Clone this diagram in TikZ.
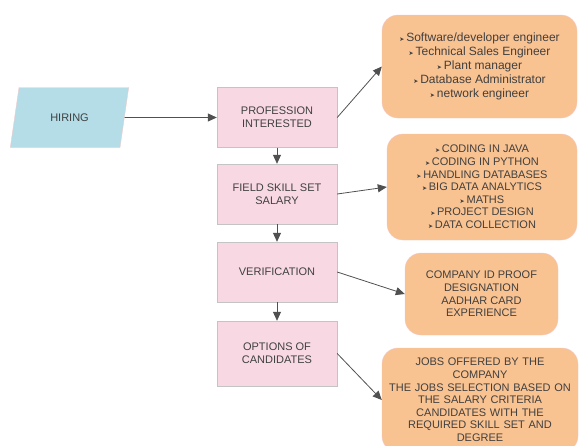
\documentclass[tikz,border=0pt]{standalone}
\usepackage{fontspec}
\setmainfont{Liberation Sans}
\newfontfamily\dejavu{DejaVu Sans}
\usetikzlibrary{arrows.meta}
\usepgflibrary{shapes.geometric}

\definecolor{hirefill}{HTML}{B4DDE7}
\definecolor{stagefill}{HTML}{F8D9E3}
\definecolor{stageline}{HTML}{C4C4C4}
\definecolor{notefill}{HTML}{F9C291}
\definecolor{noteline}{HTML}{F4C8C8}
\definecolor{inkgray}{HTML}{404040}
\definecolor{arrowgray}{HTML}{505050}

\newcommand{\tip}{{\dejavu\fontsize{6}{6}\selectfont ➤}\,}

\tikzset{
  stage/.style={draw=stageline, fill=stagefill, minimum width=120pt, minimum height=60pt,
    align=center, text=inkgray, font=\fontsize{11}{12.6}\selectfont},
  note/.style={draw=noteline, fill=notefill, rounded corners=16pt, align=center,
    text=inkgray, font=\fontsize{11}{12.6}\selectfont},
  link/.style={draw=arrowgray, line width=0.8pt, -{Triangle[length=9pt,width=8pt]}}
}

\begin{document}
\begin{tikzpicture}[x=1pt, y=-1pt]
          \useasboundingbox (0,0) rectangle (579,445);

          \node[trapezium, trapezium left angle=75, trapezium right angle=105,
            trapezium stretches=true, minimum width=119pt, minimum height=60pt,
            draw=noteline, fill=hirefill, text=inkgray, font=\fontsize{11}{12.6}\selectfont]
            (hire) at (69.5,117.5) {HIRING};

          \node[stage] (prof) at (277,117.5) {PROFESSION\\INTERESTED};
          \node[stage] (skill) at (277,194) {FIELD SKILL SET\\SALARY};
          \node[stage] (verif) at (277,272) {VERIFICATION};
          \node[stage, minimum height=65pt] (cand) at (277,353.5) {OPTIONS OF\\CANDIDATES};

          \node[note, minimum width=195pt, minimum height=103pt,
            font=\fontsize{12}{14}\selectfont] (jobs) at (479.5,66.5)
            {\tip Software/developer engineer\\ \tip Technical Sales Engineer\\
             \tip Plant manager\\ \tip Database Administrator\\ \tip network engineer};
          \node[note, minimum width=190pt, minimum height=106pt] (skills) at (482,187)
            {\tip CODING IN JAVA\\ \tip CODING IN PYTHON\\ \tip HANDLING DATABASES\\
             \tip BIG DATA ANALYTICS\\ \tip MATHS\\ \tip PROJECT DESIGN\\ \tip DATA COLLECTION};
          \node[note, minimum width=153pt, minimum height=82pt] (proof) at (481.5,294)
            {COMPANY ID PROOF\\DESIGNATION\\AADHAR CARD\\EXPERIENCE};
          \node[note, minimum width=196pt, minimum height=104pt, text width=186pt] (offer) at (480,400)
            {JOBS OFFERED BY THE\\COMPANY\\THE JOBS SELECTION BASED ON\\THE SALARY CRITERIA\\
             CANDIDATES WITH THE\\REQUIRED SKILL SET AND\\DEGREE};

          \draw[link] (hire.east) -- (prof.west);
          \draw[link] (prof.south) -- (skill.north);
          \draw[link] (skill.south) -- (verif.north);
          \draw[link] (verif.south) -- (cand.north);

          \draw[link] (prof.east) -- (jobs.west);
          \draw[link] (skill.east) -- (skills.west);
          \draw[link] (verif.east) -- (proof.west);
          \draw[link] (cand.east) -- (offer.west);

        \end{tikzpicture}
\end{document}
